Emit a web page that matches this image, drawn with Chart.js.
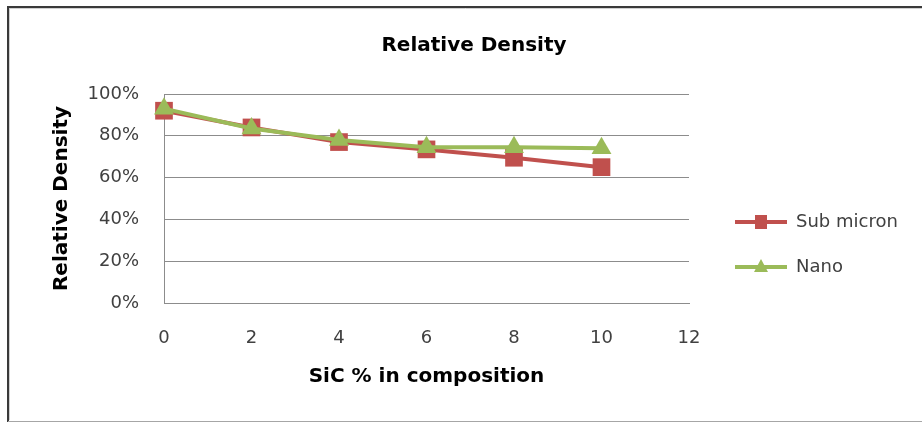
<!DOCTYPE html>
<html>
<head>
<meta charset="utf-8">
<script src="https://cdn.jsdelivr.net/npm/chart.js@4/dist/chart.umd.min.js"></script>
<style>
  html, body { margin: 0; padding: 0; background: #fff; }
  #wrap { width: 922px; height: 423px; position: relative; }
</style>
</head>
<body>
<div id="wrap"><canvas id="c" width="922" height="423"></canvas></div>
<script>
// ---- data ----
const sicPercent = [0, 2, 4, 6, 8, 10];
const subMicron = [92, 84, 77, 73.5, 69.5, 65];
const nano = [93, 83.5, 78, 74.5, 74.5, 74];
const seriesNames = ['Sub micron', 'Nano'];
const yTickValues = [0, 20, 40, 60, 80, 100];
const xTickValues = [0, 2, 4, 6, 8, 10, 12];

const RED = '#c0504d';
const GREEN = '#9bbb59';
const GRID = '#8c8c8c';

// legend symbol images (line with marker)
function legendSymbol(color, style, margin) {
  const c = document.createElement('canvas');
  c.width = margin + 52; c.height = 20;
  const g = c.getContext('2d');
  g.strokeStyle = color; g.lineWidth = 4;
  g.beginPath(); g.moveTo(margin, 10); g.lineTo(margin + 52, 10); g.stroke();
  g.fillStyle = color;
  const cx = margin + 26;
  if (style === 'rect') {
    g.fillRect(cx - 6, 3, 12, 14);
  } else {
    g.beginPath(); g.moveTo(cx, 2); g.lineTo(cx + 7, 15); g.lineTo(cx - 7, 15); g.closePath(); g.fill();
  }
  return c;
}
const LEG_PAD = 27;
const symbols = [legendSymbol(RED, 'rect', 46 - LEG_PAD), legendSymbol(GREEN, 'triangle', 46 - LEG_PAD)];

const frame = {
  id: 'frame',
  afterInit(chart) {
    const lg = chart.legend;
    if (lg) {
      const orig = lg.fit.bind(lg);
      lg.fit = function () { orig(); this.width = 233; };
    }
  },
  afterDraw(chart) {
    const ctx = chart.ctx;
    ctx.save();
    ctx.strokeStyle = '#3a3a3a'; ctx.lineWidth = 2;
    ctx.beginPath(); ctx.moveTo(8, 7); ctx.lineTo(922, 7); ctx.stroke();
    ctx.beginPath(); ctx.moveTo(8, 6); ctx.lineTo(8, 422); ctx.stroke();
    ctx.strokeStyle = '#d0d0d0'; ctx.lineWidth = 1;
    ctx.beginPath(); ctx.moveTo(9, 8.5); ctx.lineTo(922, 8.5); ctx.stroke();
    ctx.beginPath(); ctx.moveTo(9.5, 8); ctx.lineTo(9.5, 420); ctx.stroke();
    ctx.strokeStyle = '#a6a6a6'; ctx.lineWidth = 1;
    ctx.beginPath(); ctx.moveTo(8, 421.5); ctx.lineTo(922, 421.5); ctx.stroke();
    ctx.restore();
  }
};

new Chart(document.getElementById('c'), {
  type: 'line',
  data: {
    datasets: [
      {
        label: seriesNames[0],
        data: sicPercent.map((x, i) => ({ x, y: subMicron[i] })),
        borderColor: RED, backgroundColor: RED,
        pointBackgroundColor: RED, pointBorderColor: RED,
        borderWidth: 4, pointStyle: 'rect', pointRadius: 12.5, pointBorderWidth: 0,
        tension: 0, clip: false, order: 1
      },
      {
        label: seriesNames[1],
        data: sicPercent.map((x, i) => ({ x, y: nano[i] })),
        borderColor: GREEN, backgroundColor: GREEN,
        pointBackgroundColor: GREEN, pointBorderColor: GREEN,
        borderWidth: 4, pointStyle: 'triangle', pointRadius: 11.5, pointBorderWidth: 0,
        tension: 0, clip: false, order: 0
      }
    ]
  },
  options: {
    responsive: false,
    animation: false,
    layout: { padding: { left: 26, right: 0, top: 0, bottom: 0 } },
    plugins: {
      tooltip: { enabled: false },
      title: {
        display: true,
        text: 'Relative Density',
        color: '#000',
        font: { family: 'DejaVu Sans', size: 20, weight: 'bold' },
        padding: { top: 34, bottom: 36 }
      },
      legend: {
        position: 'right',
        align: 'end',
        fullSize: false,
        labels: {
          usePointStyle: true,
          pointStyleWidth: 46 - LEG_PAD + 52,
          padding: LEG_PAD,
          color: '#404040',
          font: { family: 'DejaVu Sans', size: 18 },
          sort: (a, b) => a.datasetIndex - b.datasetIndex,
          generateLabels(chart) {
            return chart.data.datasets.map((ds, i) => ({
              text: ds.label,
              datasetIndex: i,
              pointStyle: symbols[i],
              fillStyle: ds.backgroundColor,
              strokeStyle: ds.borderColor,
              lineWidth: 0,
              hidden: false,
              fontColor: '#404040'
            }));
          }
        }
      }
    },
    scales: {
      x: {
        type: 'linear',
        min: 0, max: 12,
        afterBuildTicks(s) { s.ticks = xTickValues.map(v => ({ value: v })); },
        afterFit(s) { s.height = 120; },
        grid: { display: false, drawTicks: false },
        border: { display: true, color: GRID, width: 1 },
        ticks: {
          padding: 25,
          color: '#404040',
          font: { family: 'DejaVu Sans', size: 18 },
          maxRotation: 0
        },
        title: {
          display: true,
          text: 'SiC % in composition',
          color: '#000',
          font: { family: 'DejaVu Sans', size: 20, weight: 'bold' },
          padding: { top: 0, bottom: 34 }
        }
      },
      y: {
        min: 0, max: 100,
        afterBuildTicks(s) { s.ticks = yTickValues.map(v => ({ value: v })); },
        afterFit(s) { s.width = 138; },
        grid: { color: GRID, drawTicks: false, lineWidth: 1 },
        border: { display: true, color: GRID, width: 1 },
        ticks: {
          padding: 25,
          color: '#404040',
          font: { family: 'DejaVu Sans', size: 18 },
          callback: v => v + '%'
        },
        title: {
          display: true,
          text: 'Relative Density',
          color: '#000',
          font: { family: 'DejaVu Sans', size: 20, weight: 'bold' },
          padding: { top: 24, bottom: 0 }
        }
      }
    }
  },
  plugins: [frame]
});
</script>
</body>
</html>
